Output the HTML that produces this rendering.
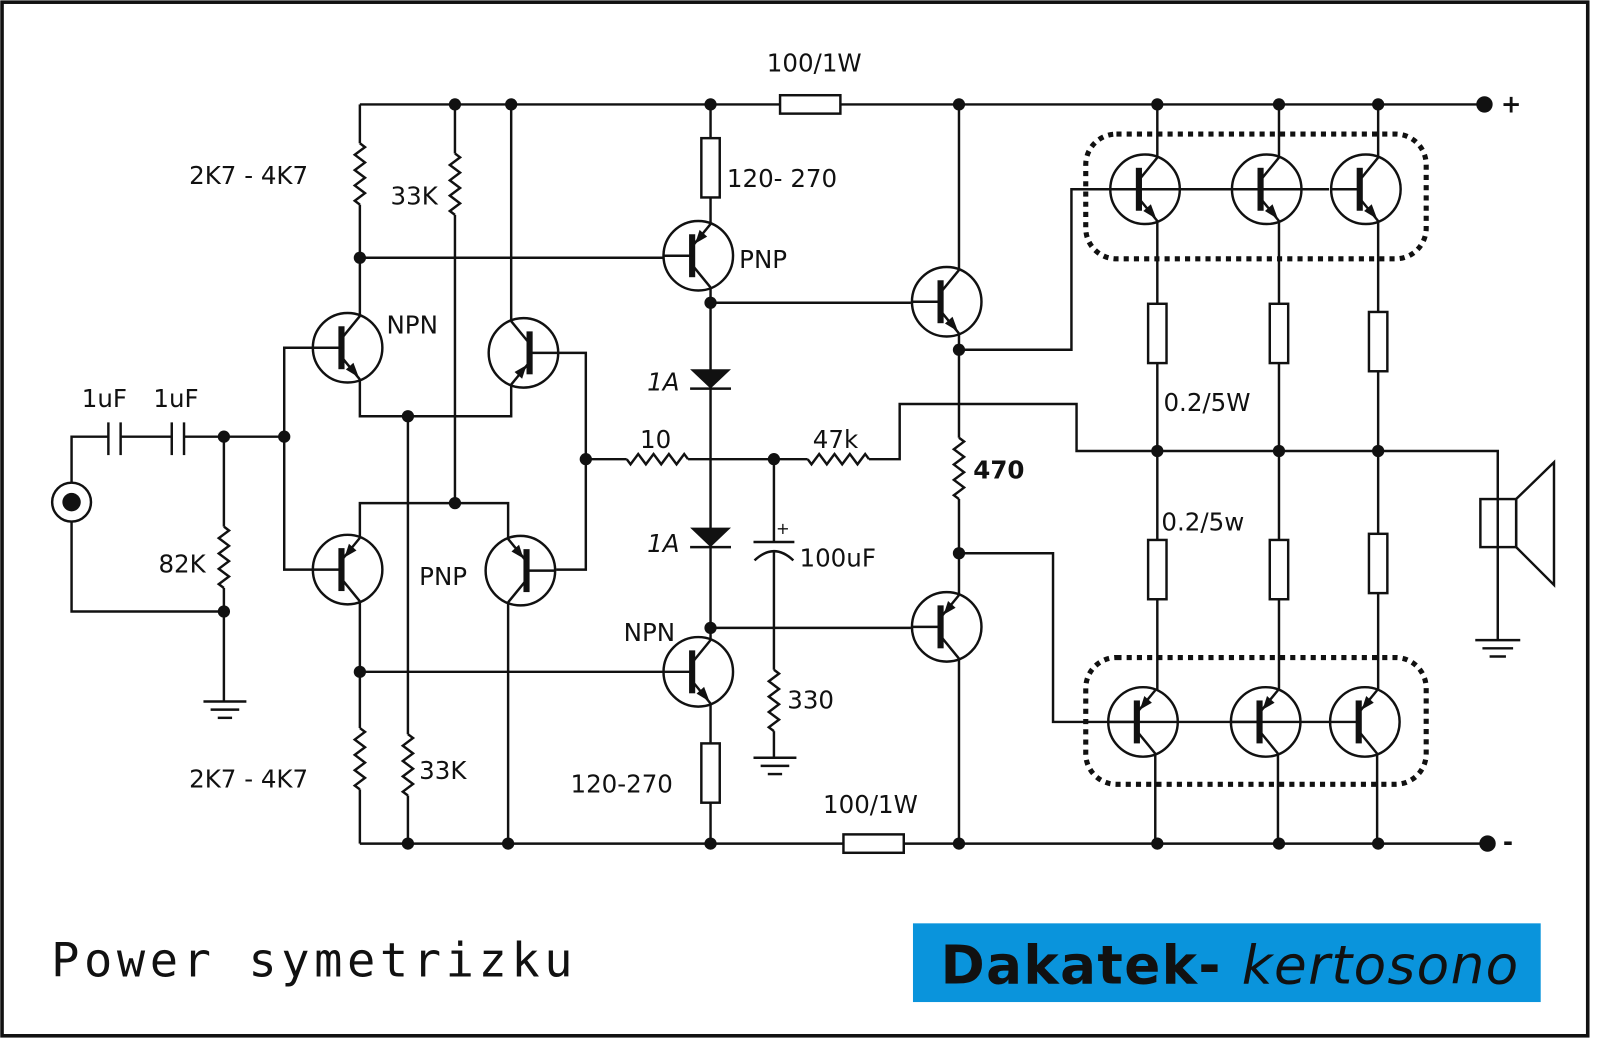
<!DOCTYPE html>
<html><head><meta charset="utf-8"><style>
html,body{margin:0;padding:0;background:#fff;}
svg{display:block;}
text{font-family:"DejaVu Sans","Liberation Sans",sans-serif;fill:#111;}
</style></head><body>
<svg width="1600" height="1039" viewBox="0 0 1565 1016" xmlns="http://www.w3.org/2000/svg">
<defs>
<g id="npn" stroke="#111" stroke-width="2.4" fill="none">
<circle r="34"/>
<rect x="-9" y="-21" width="6" height="42" fill="#111" stroke="none"/>
<line x1="-34" y1="0" x2="-6" y2="0"/>
<line x1="-6" y1="-9" x2="12" y2="-31"/>
<line x1="-6" y1="9" x2="12" y2="31"/>
<polygon points="11,29 -1.7,21.3 5.7,14.7" fill="#111" stroke="none"/>
</g>
<g id="pnp" stroke="#111" stroke-width="2.4" fill="none">
<circle r="34"/>
<rect x="-9" y="-21" width="6" height="42" fill="#111" stroke="none"/>
<line x1="-34" y1="0" x2="-6" y2="0"/>
<line x1="-6" y1="-9" x2="12" y2="-31"/>
<line x1="-6" y1="9" x2="12" y2="31"/>
<polygon points="-3,-12 8.7,-18.7 1.3,-25.3" fill="#111" stroke="none"/>
</g>
</defs>
<rect x="2" y="2" width="1551" height="1011" fill="none" stroke="#111" stroke-width="3.5"/>

<g stroke="#111" stroke-width="2.4" fill="none">
<line x1="352" y1="102" x2="763" y2="102"/><line x1="822" y1="102" x2="1452" y2="102"/>
<rect x="763" y="93" width="59" height="18"/>
<line x1="352" y1="825" x2="825" y2="825"/><line x1="884" y1="825" x2="1455" y2="825"/>
<rect x="825" y="816" width="59" height="18"/>

<circle cx="70" cy="491" r="19"/>
<polyline points="70,472 70,427 106,427"/>
<line x1="106" y1="413" x2="106" y2="445"/><line x1="118" y1="413" x2="118" y2="445"/>
<line x1="118" y1="427" x2="168" y2="427"/>
<line x1="168" y1="413" x2="168" y2="445"/><line x1="180" y1="413" x2="180" y2="445"/>
<line x1="180" y1="427" x2="278" y2="427"/>
<polyline points="70,510 70,598 219,598"/>
<line x1="219" y1="427" x2="219" y2="515"/>
<path d="M219 515 l5 3.75 l-10 7.5 l10 7.5 l-10 7.5 l10 7.5 l-10 7.5 l10 7.5 l-10 7.5 l5 3.75"/>
<line x1="219" y1="575" x2="219" y2="685"/>
<line x1="199" y1="686" x2="241" y2="686"/><line x1="206" y1="694" x2="234" y2="694"/><line x1="213" y1="702" x2="227" y2="702"/>
<polyline points="306,340 278,340 278,557 306,557"/>

<line x1="352" y1="102" x2="352" y2="140"/>
<path d="M352 140 l5 3.75 l-10 7.5 l10 7.5 l-10 7.5 l10 7.5 l-10 7.5 l10 7.5 l-10 7.5 l5 3.75"/>
<line x1="352" y1="200" x2="352" y2="309"/>
<line x1="352" y1="252" x2="648" y2="252"/>
<polyline points="352,371 352,407 500,407 500,376"/>
<line x1="500" y1="102" x2="500" y2="314"/>
<line x1="399" y1="407" x2="399" y2="718"/>
<path d="M399 718 l5 3.75 l-10 7.5 l10 7.5 l-10 7.5 l10 7.5 l-10 7.5 l10 7.5 l-10 7.5 l5 3.75"/>
<line x1="399" y1="778" x2="399" y2="825"/>
<line x1="445" y1="102" x2="445" y2="150"/>
<path d="M445 150 l5 3.75 l-10 7.5 l10 7.5 l-10 7.5 l10 7.5 l-10 7.5 l10 7.5 l-10 7.5 l5 3.75"/>
<line x1="445" y1="210" x2="445" y2="492"/>
<polyline points="352,526 352,492 497,492 497,527"/>
<line x1="352" y1="588" x2="352" y2="712"/>
<path d="M352 712 l5 3.75 l-10 7.5 l10 7.5 l-10 7.5 l10 7.5 l-10 7.5 l10 7.5 l-10 7.5 l5 3.75"/>
<line x1="352" y1="772" x2="352" y2="825"/>
<line x1="497" y1="589" x2="497" y2="825"/>
<line x1="352" y1="657" x2="648" y2="657"/>
<polyline points="546,345 573,345 573,557 544,557"/>
<line x1="573" y1="449" x2="613" y2="449"/>
<path d="M613 449 l3.75 5 l7.5 -10 l7.5 10 l7.5 -10 l7.5 10 l7.5 -10 l7.5 10 l7.5 -10 l3.75 5"/>
<line x1="673" y1="449" x2="790" y2="449"/>
<path d="M790 449 l3.75 5 l7.5 -10 l7.5 10 l7.5 -10 l7.5 10 l7.5 -10 l7.5 10 l7.5 -10 l3.75 5"/>
<polyline points="850,449 880,449 880,395 1053,395 1053,441 1465,441 1465,625"/>
<line x1="1443" y1="626" x2="1487" y2="626"/><line x1="1450" y1="634" x2="1480" y2="634"/><line x1="1457" y1="642" x2="1473" y2="642"/>

<line x1="695" y1="102" x2="695" y2="135"/>
<rect x="686" y="135" width="18" height="58"/>
<line x1="695" y1="193" x2="695" y2="219"/>
<line x1="695" y1="281" x2="695" y2="626"/>
<line x1="695" y1="296" x2="891" y2="296"/>
<line x1="695" y1="614" x2="891" y2="614"/>
<line x1="675" y1="380" x2="715" y2="380"/><line x1="675" y1="535" x2="715" y2="535"/>
<line x1="695" y1="688" x2="695" y2="727"/>
<rect x="686" y="727" width="18" height="58"/>
<line x1="695" y1="785" x2="695" y2="825"/>
<line x1="757" y1="449" x2="757" y2="530"/>
<line x1="737" y1="530" x2="777" y2="530"/>
<path d="M738 548 Q757 530 776 548"/>
<line x1="757" y1="538" x2="757" y2="655"/>
<path d="M757 655 l5 3.75 l-10 7.5 l10 7.5 l-10 7.5 l10 7.5 l-10 7.5 l10 7.5 l-10 7.5 l5 3.75"/>
<line x1="757" y1="715" x2="757" y2="740"/>
<line x1="737" y1="741" x2="779" y2="741"/><line x1="744" y1="749" x2="772" y2="749"/><line x1="751" y1="757" x2="765" y2="757"/>

<line x1="938" y1="102" x2="938" y2="264"/>
<line x1="938" y1="326" x2="938" y2="428"/>
<path d="M938 428 l5 3.75 l-10 7.5 l10 7.5 l-10 7.5 l10 7.5 l-10 7.5 l10 7.5 l-10 7.5 l5 3.75"/>
<line x1="938" y1="488" x2="938" y2="582"/>
<line x1="938" y1="644" x2="938" y2="825"/>
<polyline points="938,342 1048,342 1048,185 1300,185"/>
<polyline points="938,541 1030,541 1030,706 1300,706"/>

<line x1="1132" y1="102" x2="1132" y2="154"/><line x1="1132" y1="216" x2="1132" y2="297"/>
<rect x="1123" y="297" width="18" height="58"/><line x1="1132" y1="355" x2="1132" y2="528"/>
<rect x="1123" y="528" width="18" height="58"/><line x1="1132" y1="586" x2="1132" y2="675"/>
<line x1="1130" y1="737" x2="1130" y2="825"/>
<line x1="1251" y1="102" x2="1251" y2="154"/><line x1="1251" y1="216" x2="1251" y2="297"/>
<rect x="1242" y="297" width="18" height="58"/><line x1="1251" y1="355" x2="1251" y2="528"/>
<rect x="1242" y="528" width="18" height="58"/><line x1="1251" y1="586" x2="1251" y2="675"/>
<line x1="1250" y1="737" x2="1250" y2="825"/>
<line x1="1348" y1="102" x2="1348" y2="154"/><line x1="1348" y1="216" x2="1348" y2="305"/>
<rect x="1339" y="305" width="18" height="58"/><line x1="1348" y1="363" x2="1348" y2="522"/>
<rect x="1339" y="522" width="18" height="58"/><line x1="1348" y1="580" x2="1348" y2="675"/>
<line x1="1347" y1="737" x2="1347" y2="825"/>

<rect x="1448" y="488" width="35" height="47"/>
<polygon points="1483,488 1520,452 1520,572 1483,535"/>

<rect x="1062" y="131" width="333" height="122" rx="30" stroke-width="5" stroke-dasharray="5 5"/>
<rect x="1062" y="643" width="333" height="124" rx="30" stroke-width="5" stroke-dasharray="5 5"/>
</g>

<polygon points="675,361 715,361 695,380" fill="#111"/>
<polygon points="675,516 715,516 695,535" fill="#111"/>

<use href="#npn" x="340" y="340"/>
<use href="#pnp" transform="translate(512,345) rotate(180)"/>
<use href="#pnp" x="340" y="557"/>
<use href="#pnp" transform="translate(509,558) scale(-1,1)"/>
<use href="#pnp" x="683" y="250"/>
<use href="#npn" x="683" y="657"/>
<use href="#npn" x="926" y="295"/>
<use href="#pnp" x="926" y="613"/>
<use href="#npn" x="1120" y="185"/>
<use href="#npn" x="1239" y="185"/>
<use href="#npn" x="1336" y="185"/>
<use href="#pnp" x="1118" y="706"/>
<use href="#pnp" x="1238" y="706"/>
<use href="#pnp" x="1335" y="706"/>

<g fill="#111">
<circle cx="70" cy="491" r="9"/>
<circle cx="219" cy="427" r="6"/><circle cx="278" cy="427" r="6"/><circle cx="219" cy="598" r="6"/>
<circle cx="352" cy="252" r="6"/><circle cx="399" cy="407" r="6"/><circle cx="445" cy="492" r="6"/>
<circle cx="445" cy="102" r="6"/><circle cx="500" cy="102" r="6"/><circle cx="695" cy="102" r="6"/><circle cx="938" cy="102" r="6"/>
<circle cx="1132" cy="102" r="6"/><circle cx="1251" cy="102" r="6"/><circle cx="1348" cy="102" r="6"/>
<circle cx="1452" cy="102" r="8"/><circle cx="1455" cy="825" r="8"/>
<circle cx="573" cy="449" r="6"/><circle cx="757" cy="449" r="6"/>
<circle cx="695" cy="296" r="6"/><circle cx="695" cy="614" r="6"/>
<circle cx="938" cy="342" r="6"/><circle cx="938" cy="541" r="6"/>
<circle cx="352" cy="657" r="6"/>
<circle cx="399" cy="825" r="6"/><circle cx="497" cy="825" r="6"/><circle cx="695" cy="825" r="6"/><circle cx="938" cy="825" r="6"/>
<circle cx="1132" cy="825" r="6"/><circle cx="1251" cy="825" r="6"/><circle cx="1348" cy="825" r="6"/>
<circle cx="1132" cy="441" r="6"/><circle cx="1251" cy="441" r="6"/><circle cx="1348" cy="441" r="6"/>
</g>

<g font-size="24">
<text x="750" y="70">100/1W</text>
<text x="185" y="180">2K7 - 4K7</text>
<text x="382" y="200">33K</text>
<text x="711" y="183">120- 270</text>
<text x="723" y="262">PNP</text>
<text x="378" y="326">NPN</text>
<text x="80" y="398">1uF</text>
<text x="150" y="398">1uF</text>
<text x="155" y="560">82K</text>
<text x="633" y="382" font-style="italic">1A</text>
<text x="626" y="438">10</text>
<text x="795" y="438">47k</text>
<text x="952" y="468" font-weight="bold">470</text>
<text x="1138" y="402">0.2/5W</text>
<text x="1136" y="519">0.2/5w</text>
<text x="633" y="540" font-style="italic">1A</text>
<text x="759" y="522" font-size="16">+</text>
<text x="782" y="554">100uF</text>
<text x="410" y="572">PNP</text>
<text x="610" y="627">NPN</text>
<text x="770" y="693">330</text>
<text x="185" y="770">2K7 - 4K7</text>
<text x="410" y="762">33K</text>
<text x="558" y="775">120-270</text>
<text x="805" y="795">100/1W</text>
<text x="1468" y="110" font-weight="bold">+</text>
<text x="1470" y="832" font-weight="bold">-</text>
</g>
<text x="50" y="955" font-size="46" textLength="510" lengthAdjust="spacing" style="font-family:'DejaVu Sans Mono','Liberation Mono',monospace">Power symetrizku</text>
<rect x="893" y="903" width="614" height="77" fill="#0a94dc"/>
<text x="920" y="962" font-size="52" font-weight="bold" textLength="565" lengthAdjust="spacing">Dakatek- <tspan font-style="italic" font-weight="normal">kertosono</tspan></text>
</svg>
</body></html>
